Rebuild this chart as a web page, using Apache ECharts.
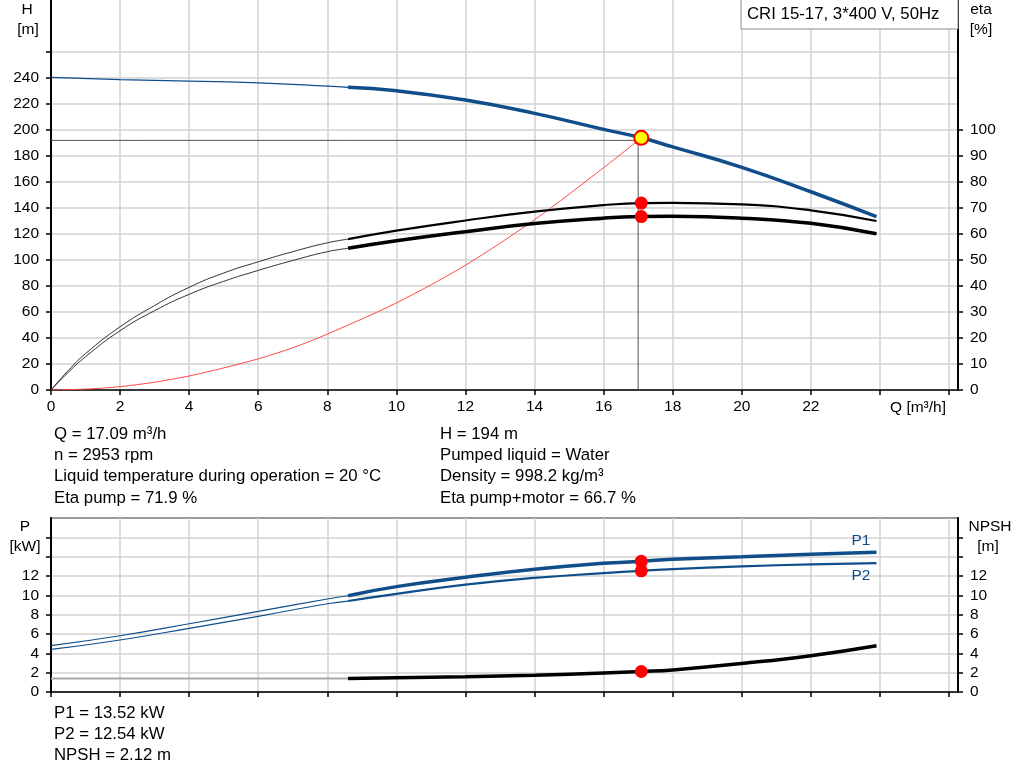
<!DOCTYPE html>
<html>
<head>
<meta charset="utf-8">
<script src="https://cdn.jsdelivr.net/npm/echarts@6/dist/echarts.min.js"></script>
<style>
html,body{margin:0;padding:0;background:#fff;}
#c{width:1024px;height:781px;}
</style>
</head>
<body>
<div id="c"></div>
<script>
// ---------- data ----------
const H_TICKS = [0,20,40,60,80,100,120,140,160,180,200,220,240,260];
const H_LABELS = [0,20,40,60,80,100,120,140,160,180,200,220,240];
const ETA_TICKS = [0,10,20,30,40,50,60,70,80,90,100];
const P_TICKS = [0,2,4,6,8,10,12,14,16];
const P_LABELS = [0,2,4,6,8,10,12];
const Q_TICKS = [0,2,4,6,8,10,12,14,16,18,20,22,24,26];
const Q_LABELS = [0,2,4,6,8,10,12,14,16,18,20,22];

const Q_THIN = [0, 2, 4, 6, 8, 8.6];
const Q_MAIN = [8.6, 10, 12, 14, 16, 17.09, 18, 20, 22, 23.9];
const H_THIN = [240.5, 238.8, 237.6, 236.3, 233.8, 232.8];
const H_MAIN = [232.8, 230.2, 223.0, 212.8, 200.5, 194.0, 187.0, 171.3, 152.5, 133.3];

const Q_ETA_THIN = [0, 0.5, 1, 2, 3, 4, 5, 6, 7, 8, 8.6];
const ETA_PUMP_THIN = [0, 7.5, 14.0, 24.3, 32.5, 39.5, 45.0, 49.3, 53.2, 56.6, 58.0];
const ETA_PUMP_MAIN = [58.0, 61.3, 65.2, 68.6, 71.1, 71.9, 72.0, 71.4, 69.1, 65.0];
const ETA_TOTAL_THIN = [0, 6.8, 12.8, 22.8, 30.5, 36.8, 41.8, 46.0, 49.8, 53.2, 54.5];
const ETA_TOTAL_MAIN = [54.5, 57.4, 60.9, 64.0, 66.1, 66.7, 66.8, 66.1, 64.1, 60.1];

const Q_SYS = [0, 1, 2, 3, 4, 5, 6, 7, 8, 10, 12, 14, 16, 17.0];
const H_SYS = [0, 0.7, 2.6, 6.0, 10.8, 17.0, 24.0, 32.5, 43.0, 67.0, 96.0, 131.0, 171.0, 192.0];

const P1_THIN = [4.8, 5.82, 7.06, 8.34, 9.62, 9.96];
const P1_MAIN = [9.96, 10.9, 11.86, 12.69, 13.31, 13.52, 13.74, 13.99, 14.24, 14.45];
const P2_THIN = [4.4, 5.38, 6.59, 7.83, 9.13, 9.41];
const P2_MAIN = [9.41, 10.15, 11.1, 11.8, 12.3, 12.54, 12.72, 13.0, 13.2, 13.34];
const Q_NPSH_THIN = [0, 8.6];
const NPSH_THIN = [1.4, 1.4];
const NPSH_MAIN = [1.4, 1.47, 1.58, 1.73, 1.97, 2.12, 2.28, 2.95, 3.76, 4.79];

const DUTY = {Q: 17.09, H: 194, etaPump: 71.9, etaTotal: 66.7, P1: 13.52, P2: 12.54, NPSH: 2.12};
const REF = {Q: 17.0, H: 192};

const INFO_LEFT = ['Q = 17.09 m³/h', 'n = 2953 rpm', 'Liquid temperature during operation = 20 °C', 'Eta pump = 71.9 %'];
const INFO_RIGHT = ['H = 194 m', 'Pumped liquid = Water', 'Density = 998.2 kg/m³', 'Eta pump+motor = 66.7 %'];
const INFO_BOTTOM = ['P1 = 13.52 kW', 'P2 = 12.54 kW', 'NPSH = 2.12 m'];
const TITLE = 'CRI 15-17, 3*400 V, 50Hz';

// ---------- helpers ----------
const zip = (xs, ys) => xs.map((x, i) => [x, ys[i]]);
const FONT = '"Liberation Sans", Arial, sans-serif';
const BLUE = '#0f4e8a';
const GRIDC = '#d2d2d2';
const TICK_FS = 15.5;
const TEXT_FS = 16.8;

function xAxisCfg(grid, labels) {
  return {
    type: 'value', gridIndex: grid, min: 0, max: 26.26, interval: 2,
    axisLine: {show: true, onZero: false, lineStyle: {color: '#000', width: 1.5}},
    axisTick: {show: true, length: 5, customValues: Q_TICKS, lineStyle: {color: '#000', width: 1.5}},
    axisLabel: {show: labels, customValues: Q_LABELS, color: '#000', fontSize: TICK_FS, fontFamily: FONT, margin: 9},
    splitLine: {show: true, lineStyle: {color: GRIDC, width: 1.5}}
  };
}
function yAxisCfg(grid, pos, max, interval, ticks, labels, split) {
  return {
    type: 'value', gridIndex: grid, position: pos, min: 0, max: max, interval: interval,
    axisLine: {show: true, onZero: false, lineStyle: {color: '#000', width: 2}},
    axisTick: {show: true, length: 5, customValues: ticks, lineStyle: {color: '#000', width: 1.5}},
    axisLabel: {show: true, customValues: labels, color: '#000', fontSize: TICK_FS, fontFamily: FONT, margin: 12},
    splitLine: {show: split, lineStyle: {color: GRIDC, width: 1.5}}
  };
}
function line(name, data, xi, yi, color, width, z, smooth) {
  return {
    name: name, type: 'line', xAxisIndex: xi, yAxisIndex: yi, data: data,
    smooth: smooth === undefined ? 0.5 : smooth, showSymbol: false, symbol: 'none',
    lineStyle: {color: color, width: width}, z: z || 3, silent: true
  };
}
function dot(data, xi, yi, size, color, border, bw, z) {
  return {
    type: 'scatter', xAxisIndex: xi, yAxisIndex: yi, data: data, symbol: 'circle', symbolSize: size,
    itemStyle: {color: color, borderColor: border || color, borderWidth: bw || 0, opacity: 1}, z: z || 10, silent: true
  };
}
function txt(text, x, y, align, color, fs) {
  return {type: 'text', x: x, y: y, silent: true, z: 100,
    style: {text: text, fill: color || '#000', font: (fs || TEXT_FS) + 'px ' + FONT, textAlign: align || 'left', textVerticalAlign: 'middle'}};
}

const graphics = [
  txt('H', 27, 10, 'center', '#000', TICK_FS), txt('[m]', 28, 30, 'center', '#000', TICK_FS),
  txt('eta', 981, 10, 'center', '#000', TICK_FS), txt('[%]', 981, 30, 'center', '#000', TICK_FS),
  txt('Q [m³/h]', 918, 408, 'center', '#000', TICK_FS),
  txt('P', 25, 527, 'center', '#000', TICK_FS), txt('[kW]', 25, 547, 'center', '#000', TICK_FS),
  txt('NPSH', 990, 527, 'center', '#000', TICK_FS), txt('[m]', 988, 547, 'center', '#000', TICK_FS),
  txt('P1', 861, 541, 'center', BLUE, TICK_FS), txt('P2', 861, 576, 'center', BLUE, TICK_FS),
  {type: 'rect', z: 99, silent: true, shape: {x: 741, y: -1, width: 217, height: 30},
   style: {fill: '#fff', stroke: '#8c8c8c', lineWidth: 1}},
  txt(TITLE, 747, 14, 'left')
];
INFO_LEFT.forEach((t, i) => graphics.push(txt(t, 54, 434 + i * 21.3, 'left')));
INFO_RIGHT.forEach((t, i) => graphics.push(txt(t, 440, 434 + i * 21.3, 'left')));
INFO_BOTTOM.forEach((t, i) => graphics.push(txt(t, 54, 713 + i * 21, 'left')));

const option = {
  animation: false,
  backgroundColor: '#fff',
  grid: [
    {left: 51, top: 0, width: 907, height: 390, show: false},
    {left: 51, top: 518, width: 907, height: 174, show: true, borderColor: '#9a9a9a', borderWidth: 2, backgroundColor: 'transparent'}
  ],
  xAxis: [xAxisCfg(0, true), xAxisCfg(1, false)],
  yAxis: [
    yAxisCfg(0, 'left', 300, 20, H_TICKS, H_LABELS, true),
    yAxisCfg(0, 'right', 150, 10, ETA_TICKS, ETA_TICKS, false),
    yAxisCfg(1, 'left', 18, 2, P_TICKS, P_LABELS, true),
    yAxisCfg(1, 'right', 18, 2, P_TICKS, P_LABELS, false)
  ],
  series: [
    line('refH', [[0, REF.H], [REF.Q, REF.H]], 0, 0, '#555', 1, 2, false),
    line('refQ', [[REF.Q, REF.H], [REF.Q, 0]], 0, 0, '#555', 1, 2, false),
    line('system', zip(Q_SYS, H_SYS), 0, 0, '#ff4a4a', 1, 3, 0.3),
    line('H thin', zip(Q_THIN, H_THIN), 0, 0, BLUE, 1.2, 4),
    line('H', zip(Q_MAIN, H_MAIN), 0, 0, BLUE, 3.5, 4),
    line('eta pump thin', zip(Q_ETA_THIN, ETA_PUMP_THIN), 0, 1, '#333', 1, 4),
    line('eta pump', zip(Q_MAIN, ETA_PUMP_MAIN), 0, 1, '#000', 2.2, 4),
    line('eta total thin', zip(Q_ETA_THIN, ETA_TOTAL_THIN), 0, 1, '#333', 1, 4),
    line('eta total', zip(Q_MAIN, ETA_TOTAL_MAIN), 0, 1, '#000', 3.5, 4),
    line('P1 thin', zip(Q_THIN, P1_THIN), 1, 2, BLUE, 1.2, 4),
    line('P1', zip(Q_MAIN, P1_MAIN), 1, 2, BLUE, 3.5, 4),
    line('P2 thin', zip(Q_THIN, P2_THIN), 1, 2, BLUE, 1.2, 4),
    line('P2', zip(Q_MAIN, P2_MAIN), 1, 2, BLUE, 2.2, 4),
    line('NPSH thin', zip(Q_NPSH_THIN, NPSH_THIN), 1, 3, '#aaaaaa', 2, 4, false),
    line('NPSH', zip(Q_MAIN, NPSH_MAIN), 1, 3, '#000', 3.5, 4),
    dot([[REF.Q, REF.H]], 0, 0, 8, 'transparent', '#ff5555', 1, 9),
    dot([[DUTY.Q, DUTY.H]], 0, 0, 14, '#ffff00', '#ff0000', 2, 11),
    dot([[DUTY.Q, DUTY.etaPump], [DUTY.Q, DUTY.etaTotal]], 0, 1, 13, '#ff0000'),
    dot([[DUTY.Q, DUTY.P1], [DUTY.Q, DUTY.P2]], 1, 2, 13, '#ff0000'),
    dot([[DUTY.Q, DUTY.NPSH]], 1, 3, 13, '#ff0000')
  ],
  graphic: graphics
};

const chart = echarts.init(document.getElementById('c'), null, {renderer: 'canvas'});
chart.setOption(option);
</script>
</body>
</html>
